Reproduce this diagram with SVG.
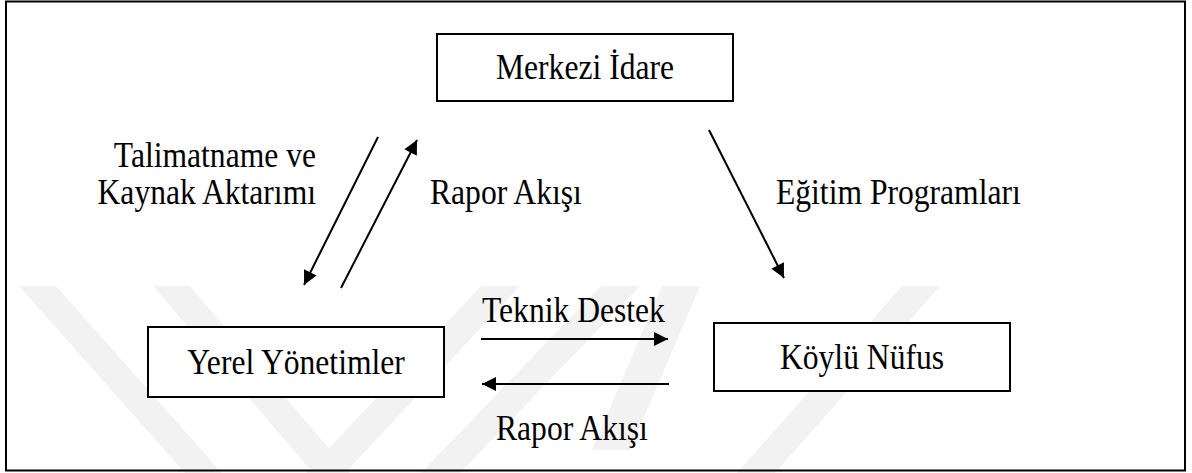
<svg xmlns="http://www.w3.org/2000/svg" width="1192" height="473" viewBox="0 0 1192 473">
<defs>
<style>
.t{font-family:"Liberation Serif","Times New Roman",serif;font-size:31.6px;fill:#000;}
.box{fill:#fff;stroke:#000;stroke-width:2;}
.ln{stroke:#000;stroke-width:2;fill:none;}
.wm{fill:#f2f2f2;}
</style>
<marker id="ah" viewBox="0 0 10 10" refX="10" refY="5" markerWidth="8" markerHeight="7" markerUnits="strokeWidth" orient="auto">
<path d="M0,0 L10,5 L0,10 z" fill="#000"/>
</marker>
</defs>
<rect x="0" y="0" width="1192" height="473" fill="#fff"/>
<g id="watermark">
<polygon class="wm" points="19,286 56,286 222,473 185,473"/>
<polygon class="wm" points="153,286 190,286 350,473 313,473"/>
<polygon class="wm" points="306,473 345,473 520,286 481,286"/>
<polygon class="wm" points="421,473 460,473 640,286 601,286"/>
<polygon class="wm" points="592,450 630,450 700,286 662,286"/>
<polygon class="wm" points="737,473 775,473 940,286 902,286"/>
</g>
<rect id="frame" x="6" y="1.5" width="1179" height="469" fill="none" stroke="#000" stroke-width="2"/>
<g id="connectors">
<line class="ln" x1="378" y1="137" x2="304" y2="285" marker-end="url(#ah)"/>
<line class="ln" x1="341" y1="288" x2="417" y2="140" marker-end="url(#ah)"/>
<line class="ln" x1="709" y1="130" x2="784" y2="278" marker-end="url(#ah)"/>
<line class="ln" x1="481" y1="339" x2="668" y2="339" marker-end="url(#ah)"/>
<line class="ln" x1="669" y1="384" x2="482" y2="384" marker-end="url(#ah)"/>
<text class="t" text-anchor="end" transform="translate(316,167) scale(1,1.14)">Talimatname ve</text>
<text class="t" text-anchor="end" transform="translate(316,204) scale(1,1.14)">Kaynak Aktarımı</text>
<text class="t" transform="translate(430,204) scale(1,1.14)">Rapor Akışı</text>
<text class="t" transform="translate(776,204) scale(1,1.14)">Eğitim Programları</text>
<text class="t" transform="translate(482,322) scale(1,1.14)">Teknik Destek</text>
<text class="t" transform="translate(496,440) scale(1,1.14)">Rapor Akışı</text>
</g>
<g id="merkezi">
<rect class="box" x="437" y="34" width="296" height="67"/>
<text class="t" text-anchor="middle" transform="translate(585,79) scale(1,1.14)">Merkezi İdare</text>
</g>
<g id="yerel">
<rect class="box" x="148" y="327" width="296" height="70"/>
<text class="t" text-anchor="middle" transform="translate(296,374) scale(1,1.14)">Yerel Yönetimler</text>
</g>
<g id="koylu">
<rect class="box" x="714" y="323" width="296" height="68"/>
<text class="t" text-anchor="middle" transform="translate(862,369) scale(1,1.14)">Köylü Nüfus</text>
</g>
</svg>
